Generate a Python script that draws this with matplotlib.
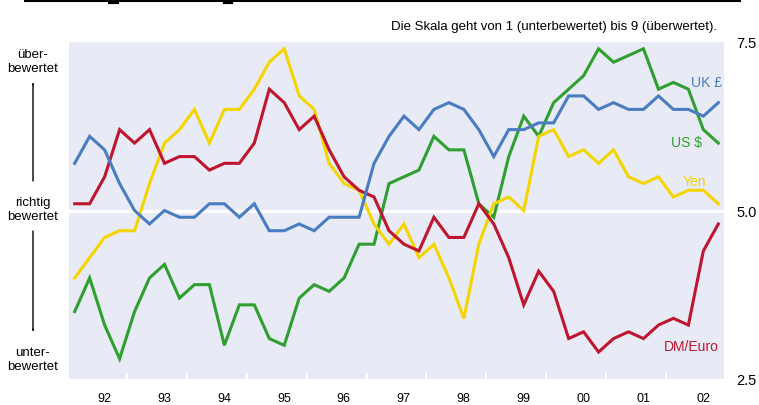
import numpy as np
import matplotlib
matplotlib.use('Agg')
import matplotlib.pyplot as plt
from matplotlib.lines import Line2D

plt.rcParams['font.family'] = ['Liberation Sans', 'DejaVu Sans']

# quarterly values 1992 Q1 .. 2002 Q4 (scale 1..9)
uk_gbp = [5.7, 6.1, 5.9, 5.4, 5.0, 4.8, 5.0, 4.9, 4.9, 5.1, 5.1,
          4.9, 5.1, 4.7, 4.7, 4.8, 4.7, 4.9, 4.9, 4.9, 5.7, 6.1,
          6.4, 6.2, 6.5, 6.6, 6.5, 6.2, 5.8, 6.2, 6.2, 6.3, 6.3,
          6.7, 6.7, 6.5, 6.6, 6.5, 6.5, 6.7, 6.5, 6.5, 6.4, 6.6]
dm_euro = [5.1, 5.1, 5.5, 6.2, 6.0, 6.2, 5.7, 5.8, 5.8, 5.6, 5.7,
           5.7, 6.0, 6.8, 6.6, 6.2, 6.4, 5.9, 5.5, 5.3, 5.2, 4.7,
           4.5, 4.4, 4.9, 4.6, 4.6, 5.1, 4.8, 4.3, 3.6, 4.1, 3.8,
           3.1, 3.2, 2.9, 3.1, 3.2, 3.1, 3.3, 3.4, 3.3, 4.4, 4.8]
yen = [4.0, 4.3, 4.6, 4.7, 4.7, 5.4, 6.0, 6.2, 6.5, 6.0, 6.5,
       6.5, 6.8, 7.2, 7.4, 6.7, 6.5, 5.7, 5.4, 5.3, 4.8, 4.5,
       4.8, 4.3, 4.5, 4.0, 3.4, 4.5, 5.1, 5.2, 5.0, 6.1, 6.2,
       5.8, 5.9, 5.7, 5.9, 5.5, 5.4, 5.5, 5.2, 5.3, 5.3, 5.1]
us_usd = [3.5, 4.0, 3.3, 2.8, 3.5, 4.0, 4.2, 3.7, 3.9, 3.9, 3.0,
          3.6, 3.6, 3.1, 3.0, 3.7, 3.9, 3.8, 4.0, 4.5, 4.5, 5.4,
          5.5, 5.6, 6.1, 5.9, 5.9, 5.1, 4.9, 5.8, 6.4, 6.1, 6.6,
          6.8, 7.0, 7.4, 7.2, 7.3, 7.4, 6.8, 6.9, 6.8, 6.2, 6.0]

years = list(range(1992, 2003))
year_labels = ['92', '93', '94', '95', '96', '97', '98', '99', '00', '01', '02']
y_ticks = [2.5, 5.0, 7.5]

# colours
BG = '#E8EAF5'
C_BLUE = '#4A7CC1'
C_RED = '#C0152F'
C_YEL = '#F5D500'
C_GRN = '#2FA02F'

W, H = 759, 406
fig = plt.figure(figsize=(W / 100, H / 100), dpi=100)
ax = fig.add_axes([69 / W, 1 - 380 / H, (724 - 69) / W, (380 - 43) / H])
ax.set_facecolor(BG)
for s in ax.spines.values():
    s.set_visible(False)

x = 1992 + (np.arange(len(uk_gbp)) + 0.5) / 4
ax.axhline(5.0, color='white', lw=2.2, zorder=1)
for vals, col in [(us_usd, C_GRN), (yen, C_YEL), (dm_euro, C_RED), (uk_gbp, C_BLUE)]:
    ax.plot(x, vals, color=col, lw=2.2, solid_joinstyle='miter', zorder=3)

ax.set_xlim(1992.03, 2002.97)
ax.set_ylim(2.5, 7.5)

# year boundaries as small white ticks, labels a bit right of mid-year
ax.set_xticks(years[1:])
ax.set_xticklabels([])
ax.tick_params(axis='x', which='major', direction='in', color='white',
               length=4, width=1.5)
ax.set_xticks([yr + 0.62 for yr in years], minor=True)
ax.set_xticklabels(year_labels, minor=True, fontsize=9)
ax.tick_params(axis='x', which='minor', length=0, pad=9.5)

ax.yaxis.tick_right()
ax.set_yticks(y_ticks)
ax.set_yticklabels(['%.1f' % v for v in y_ticks], fontsize=10.5)
ax.tick_params(axis='y', length=0, pad=9)

# series labels
ax.text(2002.93, 6.91, 'UK £', color=C_BLUE, fontsize=10, ha='right', va='center')
ax.text(2002.60, 6.02, 'US $', color=C_GRN, fontsize=10, ha='right', va='center')
ax.text(2002.68, 5.44, 'Yen', color=C_YEL, fontsize=10, ha='right', va='center')
ax.text(2002.88, 2.99, 'DM/Euro', color=C_RED, fontsize=10, ha='right', va='center')

# note above the plot
fig.text(717 / W, 1 - 27 / H, 'Die Skala geht von 1 (unterbewertet) bis 9 (überwertet).',
         ha='right', va='center', fontsize=9.5)


def fy(py):
    return 1 - py / H


# left side legend with arrows
fig.text(33 / W, fy(62), 'über-\nbewertet', ha='center', va='center', fontsize=9.5,
         linespacing=1.25)
fig.text(33 / W, fy(210), 'richtig\nbewertet', ha='center', va='center', fontsize=9.5,
         linespacing=1.25)
fig.text(33 / W, fy(360), 'unter-\nbewertet', ha='center', va='center', fontsize=9.5,
         linespacing=1.25)
arrow_kw = dict(arrowstyle='-|>,head_length=0.6,head_width=0.25', color='black',
                lw=1.0, shrinkA=0, shrinkB=0)
fig.add_artist(matplotlib.patches.FancyArrowPatch(
    (33 / W, fy(182)), (33 / W, fy(83)), transform=fig.transFigure, **arrow_kw))
fig.add_artist(matplotlib.patches.FancyArrowPatch(
    (33 / W, fy(232)), (33 / W, fy(333)), transform=fig.transFigure, **arrow_kw))

# rule at the very top (remains of a cut-off heading)
fig.add_artist(Line2D([25 / W, 740 / W], [fy(1.5), fy(1.5)], color='black', lw=1.5))
fig.add_artist(Line2D([110 / W, 117 / W], [fy(2.5), fy(2.5)], color='black', lw=3))
fig.add_artist(Line2D([225 / W, 231 / W], [fy(2.5), fy(2.5)], color='black', lw=3))

fig.savefig('out.png', dpi=100)
